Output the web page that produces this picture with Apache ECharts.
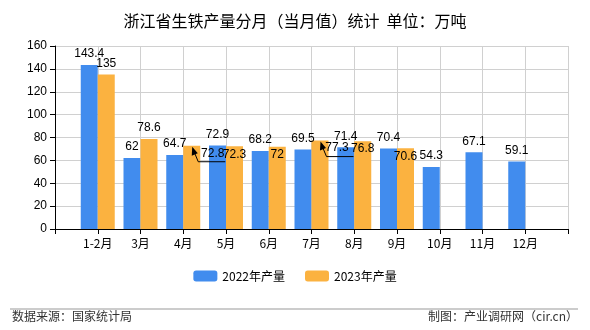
<!DOCTYPE html>
<html><head><meta charset="utf-8">
<script src="https://cdn.jsdelivr.net/npm/echarts@6/dist/echarts.min.js"></script>
<style>html,body{margin:0;padding:0;background:#fff}#c{width:590px;height:330px}</style>
</head><body><div id="c"></div>
<script>
var categories = ['', '1-2月', '3月', '4月', '5月', '6月', '7月', '8月', '9月', '10月', '11月', '12月', ''];
var values2022 = [null, 143.4, 62, 64.7, 72.9, 68.2, 69.5, 71.4, 70.4, 54.3, 67.1, 59.1, null];
var values2023 = [null, 135, 78.6, 72.8, 72.3, 72, 77.3, 76.8, 70.6, null, null, null, null];
var yTicks = [0, 20, 40, 60, 80, 100, 120, 140, 160];
var seriesNames = ['2022年产量', '2023年产量'];

var insideIdx = [4, 5, 7, 8];
var movedIdx = {3: [21, 19], 6: [17, 18]};
var data2023 = values2023.map(function (v, i) {
  if (insideIdx.indexOf(i) >= 0) return {value: v, label: {position: 'insideTop', distance: 2}};
  return v;
});

var chart = echarts.init(document.getElementById('c'));
var lblFont = {color: '#000', fontSize: 12, fontFamily: 'Liberation Sans'};
chart.setOption({
  animation: false,
  title: {text: '浙江省生铁产量分月（当月值）统计  单位：万吨', left: 'center', top: 8,
    textStyle: {fontSize: 16, fontWeight: 'normal', color: '#000', fontFamily: 'Noto Sans CJK SC'}},
  grid: {left: 55, right: 22, top: 46, bottom: 101},
  legend: {bottom: 43, left: 'center', itemWidth: 24, itemHeight: 11, itemGap: 20,
    textStyle: {fontSize: 12, color: '#000', fontFamily: 'Noto Sans CJK SC'},
    data: seriesNames},
  xAxis: {type: 'category', data: categories, boundaryGap: false,
    axisLine: {lineStyle: {color: '#000'}},
    axisTick: {show: true, lineStyle: {color: '#000'}},
    axisLabel: {color: '#000', fontSize: 12, fontFamily: 'Noto Sans CJK SC', interval: 0, margin: 8},
    splitLine: {show: true, lineStyle: {color: '#d0d0d0'}}},
  yAxis: {type: 'value', min: yTicks[0], max: yTicks[yTicks.length - 1], interval: 20,
    axisLine: {show: true, lineStyle: {color: '#000'}},
    axisTick: {show: true, lineStyle: {color: '#000'}},
    axisLabel: {color: '#000', fontSize: 12, fontFamily: 'Liberation Sans'},
    splitLine: {lineStyle: {color: '#d0d0d0'}}},
  series: [
    {name: seriesNames[0], type: 'bar', data: values2022, barWidth: 17, barGap: '0%',
      itemStyle: {color: '#418CEE'},
      label: Object.assign({show: true, position: 'top', distance: 5}, lblFont)},
    {name: seriesNames[1], type: 'bar', data: data2023, barWidth: 17,
      itemStyle: {color: '#FBB240'},
      label: Object.assign({show: true, position: 'top', distance: 5}, lblFont),
      labelLayout: function (p) {
        var m = movedIdx[p.dataIndex];
        if (m) return {dx: m[0], dy: m[1]};
        return {};
      }}
  ]
});

// footer + leader lines for the displaced labels, anchored on the bar tops via the chart's own scales
var graphics = [
  {type: 'line', shape: {x1: 10, y1: 309, x2: 578, y2: 309}, style: {stroke: '#999', lineWidth: 1}},
  {type: 'text', left: 12, top: 310, style: {text: '数据来源：国家统计局', fill: '#333', font: '12px "Noto Sans CJK SC"'}},
  {type: 'text', right: 12, top: 310, style: {text: '制图：产业调研网（cir.cn）', fill: '#333', font: '12px "Noto Sans CJK SC"'}}
];
Object.keys(movedIdx).forEach(function (k) {
  var i = +k;
  var p = chart.convertToPixel({seriesIndex: 1}, [i, values2023[i]]);
  var tx = p[0] + 9, ty = p[1] + 1;
  graphics.push({type: 'polyline', shape: {points: [[tx + 1, ty + 3], [tx + 6, ty + 15], [tx + 33, ty + 15]]},
    style: {stroke: '#000', lineWidth: 1, fill: null}, z: 100});
  graphics.push({type: 'polygon', shape: {points: [[tx, ty], [tx - 0.5, ty + 9], [tx + 5.5, ty + 6.5]]},
    style: {fill: '#000'}, z: 100});
});
chart.setOption({graphic: graphics});
</script></body></html>
